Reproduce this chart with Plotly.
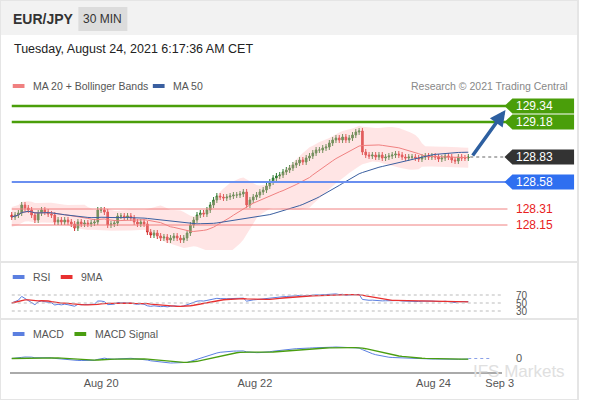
import plotly.graph_objects as go
import pandas as pd
import numpy as np

# closes of 30-minute candles (EUR/JPY)
closes = [128.23,128.25,128.27,128.35,128.32,128.30,128.25,128.20,128.27,128.30,128.28,128.26,128.25,
          128.18,128.20,128.18,128.20,128.18,128.16,128.12,128.18,128.16,128.17,128.16,128.17,128.18,
          128.30,128.30,128.28,128.15,128.16,128.17,128.24,128.24,128.23,128.24,128.22,128.18,128.16,
          128.18,128.16,128.08,128.05,128.07,128.04,128.02,128.03,128.00,128.02,128.04,128.02,128.00,
          128.02,128.07,128.15,128.20,128.25,128.27,128.26,128.30,128.35,128.40,128.44,128.43,128.42,
          128.43,128.44,128.45,128.45,128.46,128.48,128.35,128.40,128.43,128.45,128.48,128.50,128.54,
          128.58,128.62,128.64,128.65,128.68,128.70,128.72,128.75,128.77,128.80,128.78,128.82,128.84,
          128.87,128.90,128.90,128.92,128.93,128.97,129.00,129.02,129.00,129.03,129.00,129.02,129.05,
          129.08,129.09,128.88,128.85,128.84,128.85,128.83,128.85,128.82,128.83,128.84,128.85,128.86,
          128.85,128.83,128.82,128.83,128.83,128.82,128.81,128.83,128.84,128.83,128.84,128.83,128.81,
          128.82,128.84,128.83,128.80,128.79,128.83,128.82,128.82,128.83]
ticks_idx = [27, 73.5, 127.5, 147.5]
tick_text = ["Aug 20", "Aug 22", "Aug 24", "Sep 3"]
levels_green = [129.34, 129.18]
level_last = 128.83
level_blue = 128.58
levels_red = [128.31, 128.15]
arrow_target = 129.30

N = len(closes)
c = pd.Series(closes)
opens = [closes[0] + 0.02] + closes[:-1]
highs = [max(o, cl) + 0.03 for o, cl in zip(opens, closes)]
lows = [min(o, cl) - 0.03 for o, cl in zip(opens, closes)]
ma20 = c.rolling(20, min_periods=1).mean()
sd = c.rolling(20, min_periods=1).std().fillna(0.05).clip(lower=0.05)
up, lo = ma20 + 2 * sd, ma20 - 2 * sd
ma50 = c.rolling(50, min_periods=1).mean()
d = c.diff().fillna(0)
g = d.clip(lower=0).ewm(alpha=1/30, adjust=False).mean(); l = (-d.clip(upper=0)).ewm(alpha=1/30, adjust=False).mean()
rsi = 100 - 100 / (1 + (g + 0.004) / (l + 0.004))
rsima = rsi.rolling(9, min_periods=1).mean()
macd = c.ewm(span=12, adjust=False).mean() - c.ewm(span=26, adjust=False).mean()
sig = macd.ewm(span=9, adjust=False).mean()
x = list(range(N))

fig = go.Figure()
fig.add_trace(go.Scatter(x=x, y=up, mode="lines", line=dict(width=0), showlegend=False, hoverinfo="skip"))
fig.add_trace(go.Scatter(x=x, y=lo, mode="lines", line=dict(width=0), fill="tonexty",
                         fillcolor="rgba(255,180,180,0.35)", showlegend=False, hoverinfo="skip"))
fig.add_trace(go.Scatter(x=x, y=ma20, mode="lines", line=dict(color="#f08080", width=1), showlegend=False))
fig.add_trace(go.Scatter(x=x, y=ma50, mode="lines", line=dict(color="#3a5fa0", width=1), showlegend=False))
fig.add_trace(go.Candlestick(x=x, open=opens, high=highs, low=lows, close=closes,
                             increasing=dict(line=dict(color="#2e7d32", width=1), fillcolor="#2e7d32"),
                             decreasing=dict(line=dict(color="#d32f2f", width=1), fillcolor="#d32f2f"),
                             whiskerwidth=0, showlegend=False))
fig.add_trace(go.Scatter(x=x, y=rsi, mode="lines", line=dict(color="#5b7fe0", width=1), xaxis="x2", yaxis="y2", showlegend=False))
fig.add_trace(go.Scatter(x=x, y=rsima, mode="lines", line=dict(color="#e83030", width=1.3), xaxis="x2", yaxis="y2", showlegend=False))
fig.add_trace(go.Scatter(x=x, y=macd, mode="lines", line=dict(color="#5b7fe0", width=1), xaxis="x3", yaxis="y3", showlegend=False))
fig.add_trace(go.Scatter(x=x, y=sig, mode="lines", line=dict(color="#4a9e10", width=1.3), xaxis="x3", yaxis="y3", showlegend=False))

sp = (478 - 12) / (N - 1)
xr = [-2 / sp, N - 1 + 34 / sp]
xd = [10 / 590, 512 / 590]
ax = dict(range=xr, domain=xd, showgrid=False, zeroline=False, showticklabels=False, fixedrange=True)
mhi = float(max(macd.max(), sig.max()))
mlo = float(min(macd.min(), sig.min()))
u = (mhi - mlo) / 16
fig.update_layout(
    width=590, height=400, margin=dict(l=0, r=0, t=0, b=0),
    paper_bgcolor="white", plot_bgcolor="rgba(0,0,0,0)",
    font=dict(family="Liberation Sans, Arial", size=11, color="#555"),
    xaxis=dict(ax, anchor="y", rangeslider=dict(visible=False)),
    xaxis2=dict(ax, anchor="y2", matches="x"),
    xaxis3=dict(ax, anchor="y3", matches="x", showticklabels=True, tickvals=ticks_idx, ticktext=tick_text,
                showline=True, linecolor="#aaa", linewidth=2, ticks="outside", ticklen=0,
                tickfont=dict(size=11, color="#555")),
    yaxis=dict(domain=[1 - 250 / 400, 1 - 95 / 400], range=[127.90, 129.45], visible=False, fixedrange=True),
    yaxis2=dict(domain=[1 - 314 / 400, 1 - 288 / 400], range=[22.5, 87.5], visible=False, fixedrange=True),
    yaxis3=dict(domain=[1 - 372 / 400, 1 - 335 / 400], range=[mlo - 9 * u, mhi + 12 * u], visible=False, fixedrange=True),
)
shapes = []
ann = []
def txt(text, px, py, size, color, xanchor="left", yref="paper", y=None, xref="paper", x=None):
    ann.append(dict(text=text, x=px / 590 if x is None else x, y=(1 - py / 400) if y is None else y,
                    xref=xref, yref=yref, xanchor=xanchor, yanchor="middle", showarrow=False,
                    font=dict(size=size, color=color)))
# header
shapes.append(dict(type="rect", xref="paper", yref="paper", x0=0, x1=1, y0=1 - 35 / 400, y1=1, fillcolor="#f2f2f2", line_width=0, layer="below"))
shapes.append(dict(type="rect", xref="paper", yref="paper", x0=80 / 590, x1=130 / 590, y0=1 - 31 / 400, y1=1 - 7 / 400, fillcolor="#dcdcdc", line_width=0))
for py in [262, 319]:
    shapes.append(dict(type="line", xref="paper", yref="paper", x0=0, x1=1, y0=1 - py / 400, y1=1 - py / 400, line=dict(color="#e5e5e5", width=2)))
shapes.append(dict(type="rect", xref="paper", yref="paper", x0=0, x1=1, y0=0, y1=1, line=dict(color="#e5e5e5", width=2)))
txt("<b>EUR/JPY</b>", 11, 19, 14, "#333")
txt("30 MIN", 105, 19, 12, "#333", xanchor="center")
txt("Tuesday, August 24, 2021 6:17:36 AM CET", 12, 49, 12.5, "#222")
txt("Research © 2021 Trading Central", 582, 86, 10.5, "#888", xanchor="right")
txt("IFS Markets", 530, 371, 17, "#e0e0e0", xanchor="center")
def legend(px, py, color, text):
    shapes.append(dict(type="rect", xref="paper", yref="paper", x0=px / 590, x1=(px + 12) / 590, y0=1 - (py + 2) / 400, y1=1 - (py - 2) / 400, fillcolor=color, line_width=0))
    txt(text, px + 19, py, 10.5, "#555")
legend(13, 86, "#f08080", "MA 20 + Bollinger Bands"); legend(156, 86, "#3a5fa0", "MA 50")
legend(13, 277, "#5b7fe0", "RSI"); legend(62, 277, "#e83030", "9MA")
legend(13, 334, "#5b7fe0", "MACD"); legend(76, 334, "#4a9e10", "MACD Signal")

X0 = 12 / 590
def label(val, bg, fg, width_line, lc, dotted=False, box=True, x_end=518):
    shapes.append(dict(type="line", xref="paper", yref="y", x0=X0 if not dotted else 480 / 590, x1=x_end / 590, y0=val, y1=val,
                       line=dict(color=lc, width=width_line, dash="dot" if dotted else "solid")))
    if box:
        h = 0.075
        shapes.append(dict(type="path", xref="paper", yref="y",
                           path=f"M {515/590},{val} L {523/590},{val+h} L {586/590},{val+h} L {586/590},{val-h} L {523/590},{val-h} Z",
                           fillcolor=bg, line_width=0))
        txt(f"{val:.2f}", 525, 0, 12, fg, yref="y", y=val)
    else:
        txt(f"{val:.2f}", 525, 0, 12, "#e82020", yref="y", y=val)
for v in levels_green:
    label(v, "#4a9e0a", "white", 2.5, "#4a9e0a")
label(level_last, "#333333", "white", 1.2, "#666", dotted=True, x_end=515)
label(level_blue, "#2f6ff0", "white", 2, "#6a8ff0")
for v in levels_red:
    label(v, None, None, 1, "#f08080", box=False, x_end=518)
# RSI / MACD reference lines
for v in [70, 50, 30]:
    shapes.append(dict(type="line", xref="paper", yref="y2", x0=X0, x1=513 / 590, y0=v, y1=v, line=dict(color="#bbb", width=1, dash="dot")))
    txt(str(v), 525, 0, 10, "#555", yref="y2", y=v)
shapes.append(dict(type="line", xref="x3", yref="y3", x0=N - 1, x1=xr[1] - 3, y0=0, y1=0, line=dict(color="#8aa0e8", width=1, dash="dot")))
txt("0", 525, 0, 11, "#555", yref="y3", y=0)
# forecast arrow
ann.append(dict(x=N - 1 + 38 / sp, y=arrow_target, ax=N - 1 + 1, ay=level_last, xref="x", yref="y", axref="x", ayref="y",
                showarrow=True, arrowhead=2, arrowsize=0.9, arrowwidth=3.5, arrowcolor="#2d5fa0", text=""))
fig.update_layout(shapes=shapes, annotations=ann)
fig.write_html("out.html", config=dict(displayModeBar=False),
               post_script="document.body.style.margin='0';document.body.style.overflow='hidden';")
